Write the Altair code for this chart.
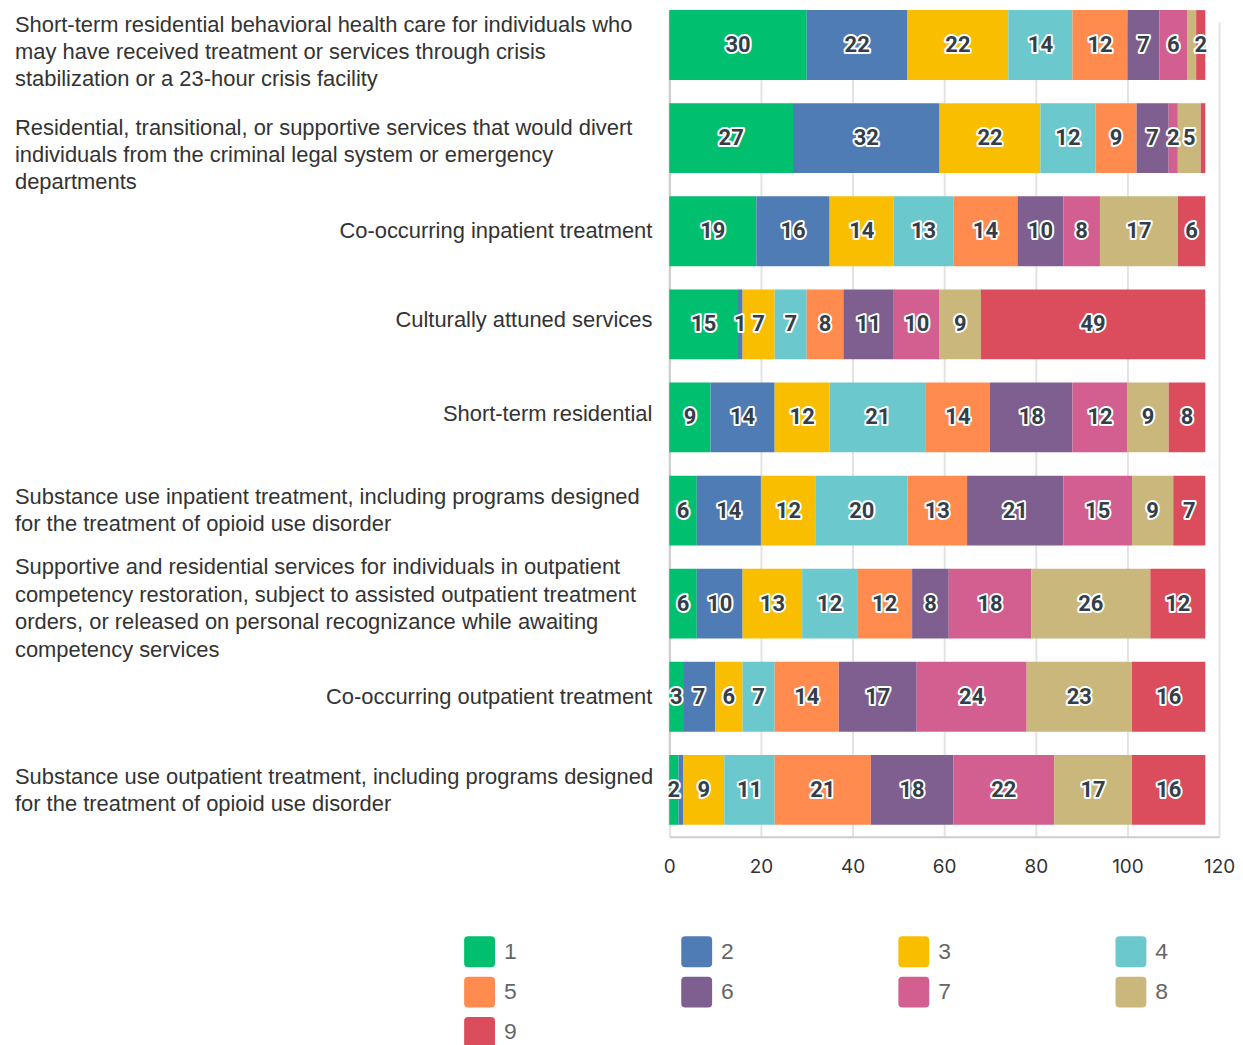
import altair as alt
import pandas as pd

# ---------------- data ----------------
row_labels = [
    "Short-term residential behavioral health care for individuals who\nmay have received treatment or services through crisis\nstabilization or a 23-hour crisis facility",
    "Residential, transitional, or supportive services that would divert\nindividuals from the criminal legal system or emergency\ndepartments",
    "Co-occurring inpatient treatment",
    "Culturally attuned services",
    "Short-term residential",
    "Substance use inpatient treatment, including programs designed\nfor the treatment of opioid use disorder",
    "Supportive and residential services for individuals in outpatient\ncompetency restoration, subject to assisted outpatient treatment\norders, or released on personal recognizance while awaiting\ncompetency services",
    "Co-occurring outpatient treatment",
    "Substance use outpatient treatment, including programs designed\nfor the treatment of opioid use disorder",
]
series_names = ["1", "2", "3", "4", "5", "6", "7", "8", "9"]
s1 = [30, 27, 19, 15, 9, 6, 6, 3, 2]
s2 = [22, 32, 16, 1, 14, 14, 10, 7, 1]
s3 = [22, 22, 14, 7, 12, 12, 13, 6, 9]
s4 = [14, 12, 13, 7, 21, 20, 12, 7, 11]
s5 = [12, 9, 14, 8, 14, 13, 12, 14, 21]
s6 = [7, 7, 10, 11, 18, 21, 8, 17, 18]
s7 = [6, 2, 8, 10, 12, 15, 18, 24, 22]
s8 = [2, 5, 17, 9, 9, 9, 26, 23, 17]
s9 = [2, 1, 6, 49, 8, 7, 12, 16, 16]
series_values = [s1, s2, s3, s4, s5, s6, s7, s8, s9]
# data labels hidden in the original (overlapping ones): (row index, series)
hidden_labels = [(0, "8"), (1, "9"), (8, "2")]
# vertical nudge of category labels as drawn in the original
label_dy = [7, 17, 0, -4, -3, 0, 5, 0, 1]

colors = ["#00BF6F", "#507CB6", "#F9BE00", "#6BC8CD", "#FF8B4F",
          "#7F5F90", "#D25F90", "#C9B77B", "#DB4D5C"]
x_ticks = [0, 20, 40, 60, 80, 100, 120]

LINE_H = 27.5
HALF_BAND = 35

# ---------------- tables ----------------
recs = []
for si, (name, vals) in enumerate(zip(series_names, series_values)):
    for ri, v in enumerate(vals):
        recs.append({"row": ri, "series": name, "sidx": si, "value": v,
                     "show": (ri, name) not in hidden_labels})
df = pd.DataFrame(recs)

lab_df = pd.DataFrame({
    "row": list(range(len(row_labels))),
    "label": row_labels,
    "lines": [len(l.split("\n")) for l in row_labels],
    "dy": label_dy,
})

# ---------------- scales / axes ----------------
yscale = alt.Scale(domain=list(range(len(row_labels))), range=[0, 818],
                   paddingInner=0.25, paddingOuter=0)
xscale = alt.Scale(domain=[0, 120], nice=False)
xaxis = alt.Axis(values=x_ticks, grid=True, gridColor="#e3e3e3",
                 gridWidth=2, domainColor="#cccccc", domainWidth=2,
                 ticks=False, tickSize=0, labelPadding=21, labelFlush=False,
                 labelFont="Inter", labelFontSize=19,
                 labelColor="#333333", title=None)
yaxis = alt.Axis(labels=False, ticks=False, title=None, grid=False,
                 domainColor="#cccccc", domainWidth=2)

rounded = ("M -0.74,-1 L 0.74,-1 Q 1,-1 1,-0.74 L 1,0.74 Q 1,1 0.74,1 "
           "L -0.74,1 Q -1,1 -1,0.74 L -1,-0.74 Q -1,-1 -0.74,-1 Z")

bars = alt.Chart(df).mark_bar().encode(
    x=alt.X("value:Q", stack="zero", scale=xscale, axis=xaxis, title=None),
    y=alt.Y("row:O", scale=yscale, axis=yaxis, title=None),
    color=alt.Color("series:N",
                    scale=alt.Scale(domain=series_names, range=colors),
                    legend=alt.Legend(title=None, orient="none",
                                      legendX=-206, legendY=930,
                                      direction="horizontal", columns=4,
                                      symbolType=rounded, symbolSize=961,
                                      symbolStrokeWidth=0, symbolOpacity=1,
                                      labelFont="Liberation Sans",
                                      labelFontSize=23, labelColor="#666666",
                                      labelOffset=9, columnPadding=165,
                                      rowPadding=9.5, padding=0)),
    order=alt.Order("sidx:Q", sort="ascending"),
)

stacked = alt.Chart(df).transform_stack(
    stack="value", groupby=["row"], sort=[alt.SortField("sidx", order="ascending")],
    as_=["x0", "x1"],
).transform_calculate(mid="(datum.x0 + datum.x1) / 2").transform_filter("datum.show")

label_font = dict(font="Roboto", fontWeight="bold", fontSize=22,
                  align="center", baseline="middle")
outline = stacked.mark_text(stroke="white", strokeWidth=4, fill="white",
                            strokeJoin="round", **label_font).encode(
    x=alt.X("mid:Q", scale=xscale, axis=xaxis, title=None),
    y=alt.Y("row:O", scale=yscale, axis=yaxis, title=None),
    text="value:Q",
)
front = stacked.mark_text(fill="#333e48", **label_font).encode(
    x=alt.X("mid:Q", scale=xscale, axis=xaxis, title=None),
    y=alt.Y("row:O", scale=yscale, axis=yaxis, title=None),
    text="value:Q",
)

cat_font = dict(font="Liberation Sans", fontSize=22, color="#333333",
                baseline="middle", lineBreak="\n", lineHeight=LINE_H)
cats = alt.Chart(lab_df).transform_calculate(
    off=f"{HALF_BAND} + datum.dy - (datum.lines - 1) * {LINE_H} / 2"
)
multi = cats.transform_filter("datum.lines > 1").mark_text(
    align="left", **cat_font).encode(
    x=alt.value(-657),
    y=alt.Y("row:O", scale=yscale, axis=yaxis, title=None),
    yOffset=alt.YOffset("off:Q", scale=None),
    text="label:N",
)
single = cats.transform_filter("datum.lines == 1").mark_text(
    align="right", **cat_font).encode(
    x=alt.value(-17),
    y=alt.Y("row:O", scale=yscale, axis=yaxis, title=None),
    yOffset=alt.YOffset("off:Q", scale=None),
    text="label:N",
)

chart = alt.layer(bars, outline, front, multi, single).properties(
    width=552, height=830,
    padding={"left": 7, "top": 0, "right": 0, "bottom": 0},
).configure_view(stroke=None)

chart.save("out.html", embed_options={"renderer": "svg", "actions": False})
